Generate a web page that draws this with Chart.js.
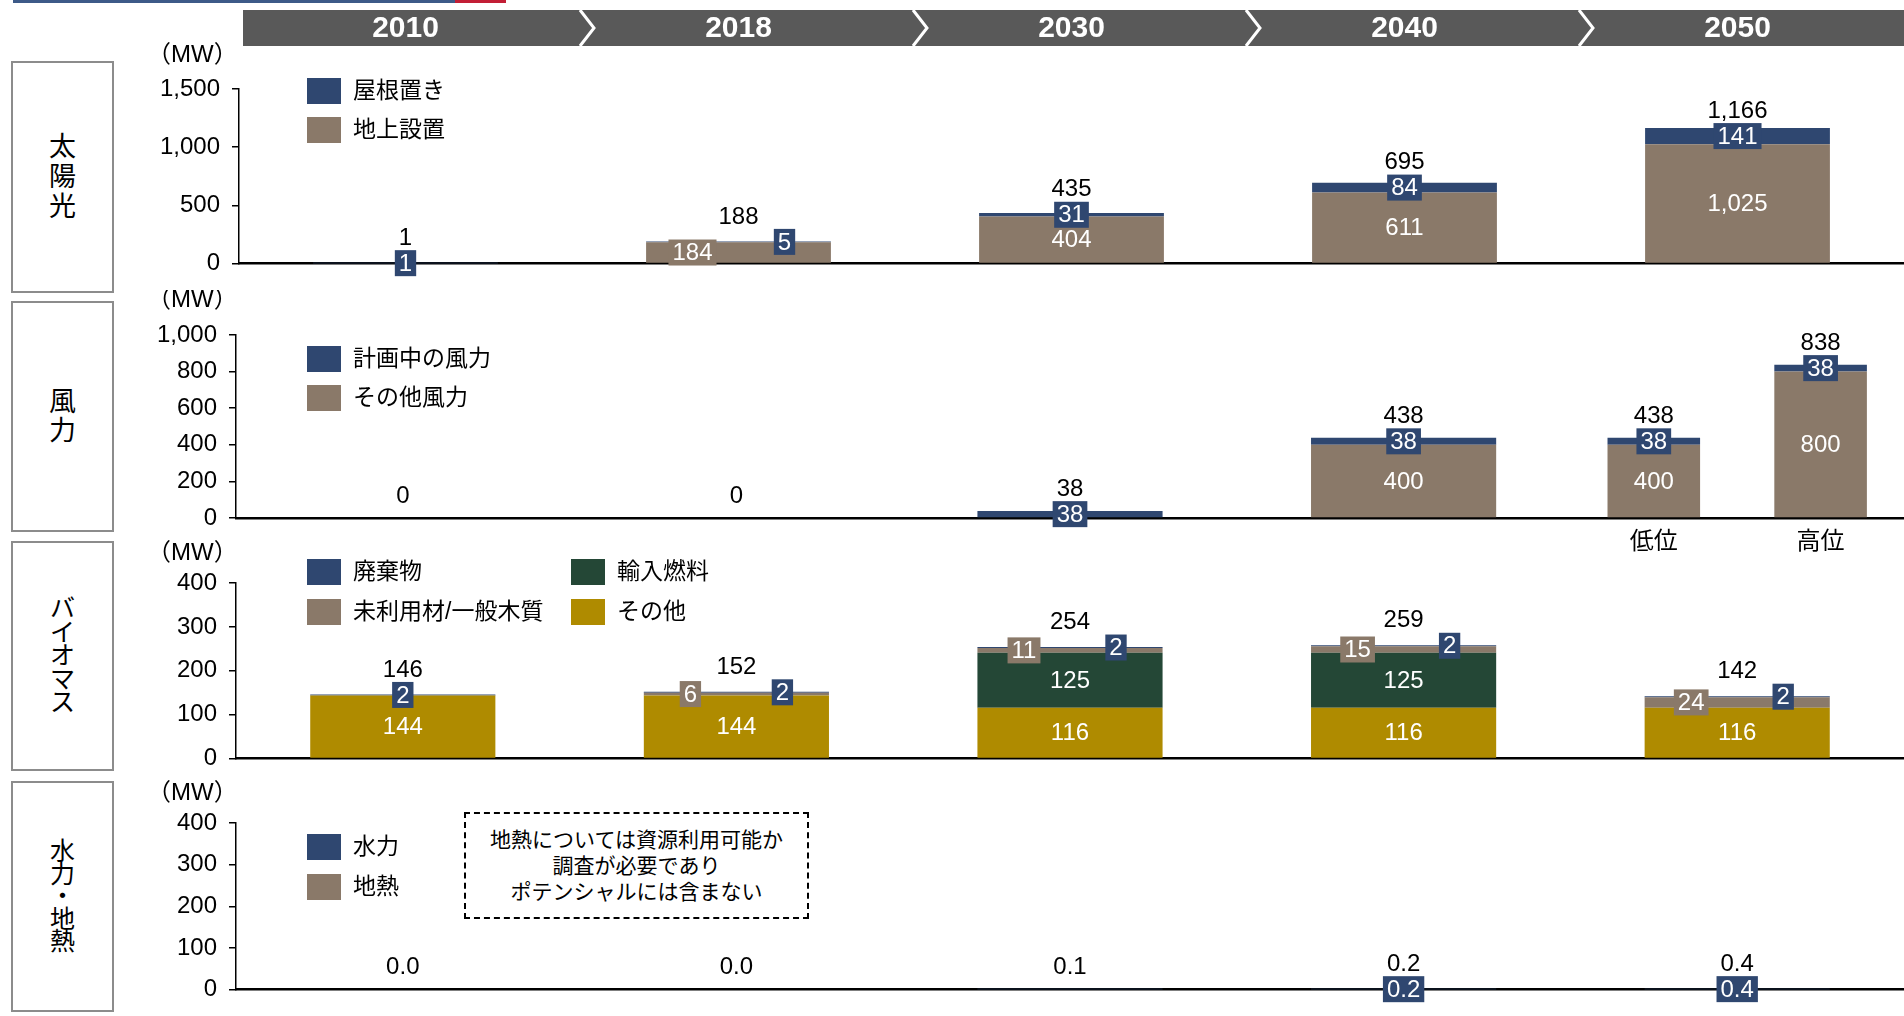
<!DOCTYPE html>
<html lang="ja">
<head>
<meta charset="utf-8">
<title>再生可能エネルギー導入ポテンシャル</title>
<script src="https://cdn.jsdelivr.net/npm/chart.js@4.4.1/dist/chart.umd.min.js"></script>
<style>
  html, body { margin: 0; padding: 0; background: #fff; }
  body { width: 1904px; height: 1016px; position: relative; overflow: hidden;
         font-family: "Liberation Sans", Arial, "Noto Sans CJK JP", sans-serif; }
  .topline { position: absolute; top: 0; height: 3px; }
  .rowlabel { position: absolute; left: 11px; width: 99px; border: 2px solid #8c8c8c;
              display: flex; align-items: center; justify-content: center; text-align: center; color: #000; }
  .note { position: absolute; left: 464px; top: 812px; width: 341px; height: 103px;
          border: 2px dashed #000; display: flex; align-items: center; justify-content: center;
          text-align: center; font-size: 21px; line-height: 26px; color: #000; }
  canvas { position: absolute; left: 0; }
</style>
</head>
<body>
<div class="topline" style="left:13px;width:442px;background:#3d5a88"></div>
<div class="topline" style="left:455px;width:51px;background:#c21e35"></div>

<div class="rowlabel" style="top:61px;height:228px;font-size:27px;line-height:30px">太<br>陽<br>光</div>
<div class="rowlabel" style="top:301px;height:227px;font-size:27px;line-height:29px">風<br>力</div>
<div class="rowlabel" style="top:541px;height:226px;font-size:25px;line-height:23.5px">バ<br>イ<br>オ<br>マ<br>ス</div>
<div class="rowlabel" style="top:781px;height:227px;font-size:25px;line-height:22.5px">水<br>力<br>・<br>地<br>熱</div>

<div class="note">地熱については資源利用可能か<br>調査が必要であり<br>ポテンシャルには含まない</div>

<canvas id="solar" width="1904" height="290" style="top:0"></canvas>
<canvas id="wind" width="1904" height="270" style="top:290px"></canvas>
<canvas id="bio" width="1904" height="247" style="top:538px"></canvas>
<canvas id="hydro" width="1904" height="238" style="top:778px"></canvas>

<script>
const years = ['2010', '2018', '2030', '2040', '2050'];

// 太陽光 (MW)
const solarGround = [0, 184, 404, 611, 1025];
const solarRoof = [1, 5, 31, 84, 141];
const solarTotal = [1, 188, 435, 695, 1166];

// 風力 (MW) – 2050 is shown as two cases
const windOther = [0, 0, 0, 400, null];
const windPlanned = [0, 0, 38, 38, null];
const windTotal = [0, 0, 38, 438, null];
const windCases = ['低位', '高位'];
const windOther2050 = [400, 800];
const windPlanned2050 = [38, 38];
const windTotal2050 = [438, 838];

// バイオマス (MW)
const bioOther = [144, 144, 116, 116, 116];
const bioImport = [0, 0, 125, 125, 0];
const bioUnused = [0, 6, 11, 15, 24];
const bioWaste = [2, 2, 2, 2, 2];
const bioTotal = [146, 152, 254, 259, 142];

// 水力・地熱 (MW)
const hydro = [0.0, 0.0, 0.1, 0.2, 0.4];
const geothermal = [0, 0, 0, 0, 0];
const hydroTotal = [0.0, 0.0, 0.1, 0.2, 0.4];
const hydroLabelShown = [false, false, false, true, true];

const NAVY = '#2f4770';
const BROWN = '#8a7969';
const GREEN = '#244736';
const GOLD = '#af8b00';
const FONT = '"Liberation Sans", Arial, "Noto Sans CJK JP", sans-serif';
const BOX_H = 26;

Chart.defaults.font.family = FONT;

const fmtInt = v => Math.round(v).toLocaleString('en-US');
const fmt1 = v => v.toFixed(1);
const only2050 = v => [null, null, null, null, v];

// value labels, totals, legend and the year header
const panelDecor = {
  id: 'panelDecor',
  afterDatasetsDraw(chart, args, opts) {
    const { ctx, chartArea } = chart;
    const xs = chart.scales.x;
    const base = chart.scales.y.getPixelForValue(0);

    // collect stacked segments per bar
    const groups = new Map();
    chart.data.datasets.forEach((ds, di) => {
      const meta = chart.getDatasetMeta(di);
      ds.data.forEach((v, i) => {
        if (v === null || v === undefined) return;
        const key = ds.stack + '|' + i;
        if (!groups.has(key)) groups.set(key, { stack: ds.stack, index: i, segs: [] });
        groups.get(key).segs.push({ ds, v, bar: meta.data[i] });
      });
    });

    ctx.save();
    ctx.font = '24px ' + FONT;
    ctx.textAlign = 'center';
    ctx.textBaseline = 'middle';
    groups.forEach(g => {
      const x = g.segs[0].bar.x;
      const boxed = [];
      g.segs.forEach(s => {
        if (!(s.v > 0)) return;
        if (s.ds.labelShown && !s.ds.labelShown[g.index]) return;
        const cy = (s.bar.y + s.bar.base) / 2;
        if (s.bar.base - s.bar.y >= BOX_H) {
          ctx.fillStyle = '#fff';
          ctx.fillText(opts.fmt(s.v), x, cy + 1);
        } else {
          boxed.push({ s, cy });
        }
      });
      boxed.forEach((b, k) => {
        const dx = boxed.length > 1 ? (k === 0 ? -46 : 46) : 0;
        const t = opts.fmt(b.s.v);
        const w = ctx.measureText(t).width + 8;
        ctx.fillStyle = b.s.ds.backgroundColor;
        ctx.fillRect(x + dx - w / 2, b.cy - BOX_H / 2, w, BOX_H);
        ctx.fillStyle = '#fff';
        ctx.fillText(t, x + dx, b.cy + 1);
      });
      const totals = opts.totals[g.stack];
      if (totals && totals[g.index] !== null && totals[g.index] !== undefined) {
        const top = Math.min(...g.segs.map(s => s.bar.y));
        const ty = boxed.length ? Math.min(...boxed.map(b => b.cy)) - 25 : top - 22;
        ctx.fillStyle = '#000';
        ctx.fillText(opts.fmt(totals[g.index]), x, ty);
      }
      if (opts.caseLabels && opts.caseLabels[g.stack]) {
        ctx.fillStyle = '#000';
        ctx.fillText(opts.caseLabels[g.stack], x, base + 24);
      }
    });

    // unit
    ctx.textAlign = 'left';
    ctx.fillStyle = '#000';
    ctx.font = '24px ' + FONT;
    ctx.fillText('（MW）', 147, opts.mwY);

    // legend, top series first, filled column by column
    const items = [];
    chart.data.datasets.slice().reverse().forEach(ds => {
      if (!items.find(it => it.label === ds.label)) items.push(ds);
    });
    const lg = opts.legend;
    ctx.font = '23px ' + FONT;
    items.forEach((ds, k) => {
      const col = Math.floor(k / lg.rows);
      const row = k % lg.rows;
      const bx = lg.x + col * lg.colGap;
      const by = lg.y + row * lg.rowGap;
      ctx.fillStyle = ds.backgroundColor;
      ctx.fillRect(bx, by, 34, 26);
      ctx.fillStyle = '#000';
      ctx.fillText(ds.label, bx + 46, by + 14);
    });

    // year header with chevrons
    if (opts.header) {
      const n = chart.data.labels.length;
      ctx.fillStyle = '#595959';
      ctx.fillRect(chartArea.left + 4, 10, chart.width - chartArea.left - 4, 36);
      ctx.strokeStyle = '#fff';
      ctx.lineWidth = 3;
      for (let i = 0; i < n - 1; i++) {
        const b = (xs.getPixelForValue(i) + xs.getPixelForValue(i + 1)) / 2;
        ctx.beginPath();
        ctx.moveTo(b + 8, 10);
        ctx.lineTo(b + 22, 28);
        ctx.lineTo(b + 8, 46);
        ctx.stroke();
      }
      ctx.font = 'bold 30px ' + FONT;
      ctx.textAlign = 'center';
      ctx.fillStyle = '#fff';
      chart.data.labels.forEach((lab, i) => ctx.fillText(lab, xs.getPixelForValue(i), 29));
    }
    ctx.restore();
  }
};

function bar(label, data, color, stack, extra) {
  return Object.assign({
    label, data, stack,
    backgroundColor: color,
    borderWidth: 0,
    categoryPercentage: 1.0,
    barPercentage: 0.555,
    skipNull: true
  }, extra || {});
}

function makeChart(id, datasets, cfg) {
  return new Chart(document.getElementById(id), {
    type: 'bar',
    data: { labels: years, datasets },
    options: {
      responsive: false,
      animation: false,
      devicePixelRatio: 1,
      layout: { padding: { top: cfg.padTop, left: 0, right: 0, bottom: 0 } },
      plugins: {
        legend: { display: false },
        tooltip: { enabled: false },
        panelDecor: cfg.decor
      },
      scales: {
        x: {
          stacked: true,
          ticks: { display: false },
          grid: { display: false },
          border: { color: '#000', width: 2.5 },
          afterFit(axis) { axis.height = cfg.xHeight; }
        },
        y: {
          stacked: true,
          min: 0,
          max: cfg.max,
          ticks: {
            stepSize: cfg.step,
            color: '#000',
            padding: 12,
            font: { size: 24 },
            callback: v => v.toLocaleString('en-US')
          },
          grid: { drawOnChartArea: false, drawTicks: true, tickLength: 7, color: '#000', lineWidth: 1.5 },
          border: { color: '#000', width: 1.5 },
          afterFit(axis) { axis.width = cfg.left; }
        }
      }
    },
    plugins: [panelDecor]
  });
}

makeChart('solar', [
  bar('地上設置', solarGround, BROWN, 'main'),
  bar('屋根置き', solarRoof, NAVY, 'main')
], {
  padTop: 89, xHeight: 18, left: 239, max: 1500, step: 500,
  decor: { fmt: fmtInt, totals: { main: solarTotal }, mwY: 55, header: true,
           legend: { x: 307, y: 78, rows: 2, rowGap: 39, colGap: 0 } }
});

makeChart('wind', [
  bar('その他風力', windOther, BROWN, 'main'),
  bar('計画中の風力', windPlanned, NAVY, 'main'),
  bar('その他風力', only2050(windOther2050[0]), BROWN, 'low'),
  bar('計画中の風力', only2050(windPlanned2050[0]), NAVY, 'low'),
  bar('その他風力', only2050(windOther2050[1]), BROWN, 'high'),
  bar('計画中の風力', only2050(windPlanned2050[1]), NAVY, 'high')
], {
  padTop: 45, xHeight: 42, left: 236, max: 1000, step: 200,
  decor: { fmt: fmtInt, mwY: 10,
           totals: { main: windTotal, low: only2050(windTotal2050[0]), high: only2050(windTotal2050[1]) },
           caseLabels: { low: windCases[0], high: windCases[1] },
           legend: { x: 307, y: 56, rows: 2, rowGap: 39, colGap: 0 } }
});

makeChart('bio', [
  bar('その他', bioOther, GOLD, 'main'),
  bar('輸入燃料', bioImport, GREEN, 'main'),
  bar('未利用材/一般木質', bioUnused, BROWN, 'main'),
  bar('廃棄物', bioWaste, NAVY, 'main')
], {
  padTop: 45, xHeight: 19, left: 236, max: 400, step: 100,
  decor: { fmt: fmtInt, totals: { main: bioTotal }, mwY: 15,
           legend: { x: 307, y: 21, rows: 2, rowGap: 40, colGap: 264 } }
});

makeChart('hydro', [
  bar('地熱', geothermal, BROWN, 'main'),
  bar('水力', hydro, NAVY, 'main', { labelShown: hydroLabelShown })
], {
  padTop: 45, xHeight: 10, left: 236, max: 400, step: 100,
  decor: { fmt: fmt1, totals: { main: hydroTotal }, mwY: 15,
           legend: { x: 307, y: 56, rows: 2, rowGap: 40, colGap: 0 } }
});
</script>
</body>
</html>
